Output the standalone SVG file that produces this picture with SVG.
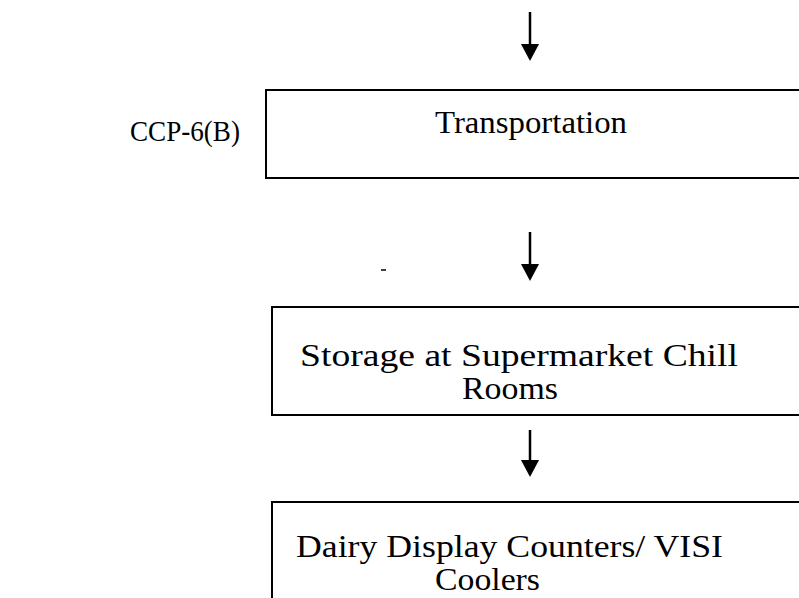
<svg xmlns="http://www.w3.org/2000/svg" width="799" height="598" viewBox="0 0 799 598">
<style>
.box{fill:#fff;stroke:#000;stroke-width:2}
.t{font-family:"Liberation Serif","Times New Roman",serif;font-size:31px;fill:#000}
.s{font-size:29px}
.ln{stroke:#000;stroke-width:2.5}
.hd{fill:#000}
</style>
<rect width="799" height="598" fill="#fff"/>
<g id="connectors">
<line class="ln" x1="530" y1="12" x2="530" y2="46"/><polygon class="hd" points="521,44 539,44 530,61"/>
<line class="ln" x1="530" y1="232" x2="530" y2="266"/><polygon class="hd" points="521,264 539,264 530,281"/>
<line class="ln" x1="530" y1="430" x2="530" y2="462"/><polygon class="hd" points="521,460 539,460 530,477"/>
</g>
<g id="label-ccp"><text class="t s" x="130" y="141" textLength="110" lengthAdjust="spacingAndGlyphs">CCP-6(B)</text></g>
<g id="node-transportation">
<rect class="box" x="266" y="90" width="545" height="88"/>
<text class="t" x="435" y="133" textLength="192" lengthAdjust="spacingAndGlyphs">Transportation</text>
</g>
<g id="node-storage">
<rect class="box" x="272" y="307" width="540" height="108"/>
<text class="t" x="300" y="366" textLength="438" lengthAdjust="spacingAndGlyphs">Storage at Supermarket Chill</text>
<text class="t" x="462" y="399" textLength="96" lengthAdjust="spacingAndGlyphs">Rooms</text>
</g>
<g id="node-dairy">
<rect class="box" x="272" y="502" width="540" height="110"/>
<text class="t" x="296" y="557" textLength="427" lengthAdjust="spacingAndGlyphs">Dairy Display Counters/ VISI</text>
<text class="t" x="435" y="590" textLength="105" lengthAdjust="spacingAndGlyphs">Coolers</text>
</g>
<line x1="381" y1="270" x2="386" y2="270" stroke="#000" stroke-width="1.5"/>
</svg>
